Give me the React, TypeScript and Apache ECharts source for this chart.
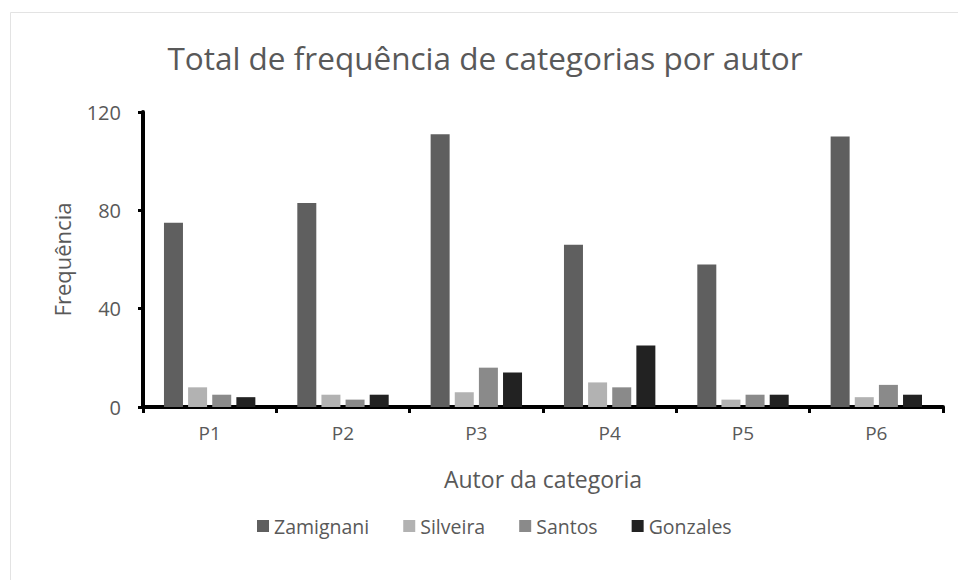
import React, { useEffect, useRef } from "react";
import * as echarts from "echarts";

const categories = ["P1", "P2", "P3", "P4", "P5", "P6"];
const zamignani = [75, 83, 111, 66, 58, 110];
const silveira = [8, 5, 6, 10, 3, 4];
const santos = [5, 3, 16, 8, 5, 9];
const gonzales = [4, 5, 14, 25, 5, 5];
const seriesNames = ["Zamignani", "Silveira", "Santos", "Gonzales"];
const seriesColors = ["#5f5f5f", "#b2b2b2", "#8a8a8a", "#222222"];
const yTicks = { min: 0, max: 120, interval: 40 };

const FONT = "'Open Sans', sans-serif";
const TXT = "#595959";

export default function App() {
  const ref = useRef<HTMLDivElement>(null);
  useEffect(() => {
    if (!ref.current) return;
    const chart = echarts.init(ref.current, undefined, { renderer: "svg" });
    const data = [zamignani, silveira, santos, gonzales];
    chart.setOption({
      animation: false,
      backgroundColor: "#ffffff",
      textStyle: { fontFamily: FONT },
      graphic: [
        {
          type: "rect",
          shape: { x: 10.5, y: 12.5, width: 1000, height: 700 },
          style: { fill: "none", stroke: "#e3e3e3", lineWidth: 1 },
          silent: true,
        },
      ],
      title: {
        text: "Total de frequência de categorias por autor",
        left: 480,
        textAlign: "center",
        top: 36,
        textStyle: { fontFamily: FONT, fontSize: 31.5, fontWeight: "normal", color: TXT },
      },
      legend: {
        data: seriesNames,
        left: 252,
        top: 511,
        itemWidth: 12,
        itemHeight: 12,
        itemGap: 34,
        icon: "rect",
        textStyle: { fontFamily: FONT, fontSize: 19.5, color: TXT },
      },
      grid: { left: 143, right: 15, top: 112, bottom: 173, containLabel: false },
      xAxis: {
        type: "category",
        data: categories,
        name: "Autor da categoria",
        nameLocation: "middle",
        nameGap: 60,
        nameTextStyle: { fontFamily: FONT, fontSize: 23, color: TXT },
        axisLine: { lineStyle: { color: "#000", width: 4 } },
        axisTick: { show: true, length: 6, lineStyle: { color: "#000", width: 3 } },
        axisLabel: { margin: 16, fontFamily: FONT, fontSize: 19, color: TXT },
      },
      yAxis: {
        type: "value",
        min: yTicks.min,
        max: yTicks.max,
        interval: yTicks.interval,
        name: "Frequência",
        nameLocation: "middle",
        nameGap: 70,
        nameTextStyle: { fontFamily: FONT, fontSize: 22, color: TXT },
        axisLine: { show: true, lineStyle: { color: "#000", width: 4 } },
        axisTick: { show: true, length: 5, lineStyle: { color: "#000", width: 3 } },
        axisLabel: { margin: 22, fontFamily: FONT, fontSize: 20, color: TXT },
        splitLine: { show: false },
      },
      series: seriesNames.map((name, i) => ({
        name,
        type: "bar",
        data: data[i],
        barWidth: 19,
        barGap: "27%",
        itemStyle: { color: seriesColors[i] },
      })),
    });
    return () => chart.dispose();
  }, []);
  return (
    <div
      ref={ref}
      style={{ position: "fixed", left: 0, top: 0, width: 958, height: 580 }}
    />
  );
}
